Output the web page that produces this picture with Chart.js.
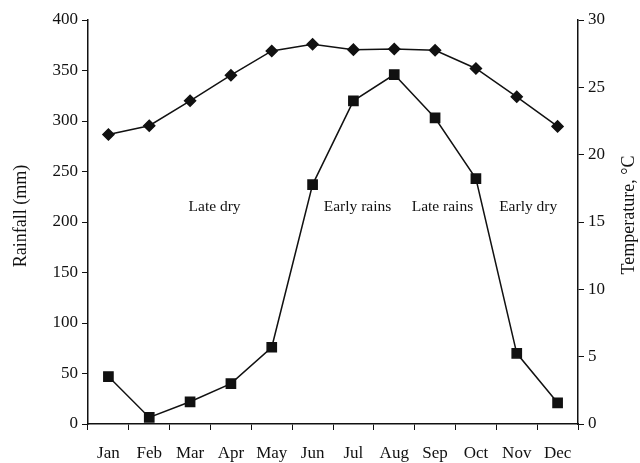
<!DOCTYPE html>
<html>
<head>
<meta charset="utf-8">
<script src="https://cdn.jsdelivr.net/npm/chart.js@4"></script>
<style>
  html, body { margin: 0; padding: 0; background: #fff; }
  #wrap { width: 640px; height: 463px; position: relative; }
</style>
</head>
<body>
<div id="wrap"><canvas id="climChart"></canvas></div>
<script>
var months = ['Jan', 'Feb', 'Mar', 'Apr', 'May', 'Jun', 'Jul', 'Aug', 'Sep', 'Oct', 'Nov', 'Dec'];
var rainfall = [47, 6.5, 22, 40, 76, 237, 320, 346, 303, 243, 70, 21];
var temperature = [21.5, 22.15, 24.0, 25.9, 27.7, 28.2, 27.8, 27.85, 27.75, 26.4, 24.3, 22.1];
var rainTicks = [0, 50, 100, 150, 200, 250, 300, 350, 400];
var tempTicks = [0, 5, 10, 15, 20, 25, 30];
var seasons = ['Late dry', 'Early rains', 'Late rains', 'Early dry'];
var seasonPos = [2.6, 6.1, 8.18, 10.28];
var seasonLevel = 215;

var serif = '"Liberation Serif", "DejaVu Serif", serif';
var ink = '#111';

// season names inside the plot, plus both axis titles (reading bottom to top)
var seasonLabels = {
  id: 'seasonLabels',
  afterDatasetsDraw: function(chart) {
    var ctx = chart.ctx;
    var xs = chart.scales.x, ys = chart.scales.yRain;
    ctx.save();
    ctx.font = '15.5px ' + serif;
    ctx.fillStyle = ink;
    ctx.textAlign = 'center';
    ctx.textBaseline = 'middle';
    for (var i = 0; i < seasons.length; i++) {
      ctx.fillText(seasons[i], xs.getPixelForValue(seasonPos[i]), ys.getPixelForValue(seasonLevel));
    }
    ctx.font = '18px ' + serif;
    ctx.save();
    ctx.translate(21, 216);
    ctx.rotate(-Math.PI / 2);
    ctx.fillText('Rainfall (mm)', 0, 0);
    ctx.restore();
    ctx.translate(629, 215);
    ctx.rotate(-Math.PI / 2);
    ctx.fillText('Temperature, \u00B0C', 0, 0);
    ctx.restore();
  }
};

var ctx = document.getElementById('climChart');
var myChart = new Chart(ctx, {
  type: 'line',
  data: {
    labels: months,
    datasets: [{
      label: 'Temperature',
      data: temperature,
      yAxisID: 'yTemp',
      borderColor: ink,
      backgroundColor: ink,
      borderWidth: 1.5,
      pointStyle: 'rectRot',
      pointRadius: 5.5,
      pointHoverRadius: 5.5,
      tension: 0
    }, {
      label: 'Rainfall',
      data: rainfall,
      yAxisID: 'yRain',
      borderColor: ink,
      backgroundColor: ink,
      borderWidth: 1.5,
      pointStyle: 'rect',
      pointRadius: 6.5,
      pointHoverRadius: 6.5,
      tension: 0
    }]
  },
  options: {
    responsive: true,
    maintainAspectRatio: false,
    animation: false,
    layout: { padding: { top: 20, left: 0, right: 0, bottom: 0 } },
    plugins: {
      legend: { display: false },
      tooltip: { enabled: false }
    },
    scales: {
      x: {
        offset: true,
        grid: { offset: true, drawOnChartArea: false, drawTicks: true, tickLength: 6, color: ink },
        border: { display: true, color: ink, width: 1.5 },
        ticks: { color: ink, font: { family: serif, size: 17 }, padding: 13, maxRotation: 0 },
        afterFit: function(scale) { scale.height = 39; }
      },
      yRain: {
        position: 'left',
        min: 0,
        max: 400,
        afterBuildTicks: function(scale) { scale.ticks = rainTicks.map(function(v) { return { value: v }; }); },
        grid: { drawOnChartArea: false, drawTicks: true, tickLength: 6, color: ink },
        border: { display: true, color: ink, width: 1.5 },
        ticks: { color: ink, font: { family: serif, size: 17 }, padding: 4 },
        afterFit: function(scale) { scale.width = 88; }
      },
      yTemp: {
        position: 'right',
        min: 0,
        max: 30,
        afterBuildTicks: function(scale) { scale.ticks = tempTicks.map(function(v) { return { value: v }; }); },
        grid: { drawOnChartArea: false, drawTicks: true, tickLength: 6, color: ink },
        border: { display: true, color: ink, width: 1.5 },
        ticks: { color: ink, font: { family: serif, size: 17 }, padding: 4 },
        afterFit: function(scale) { scale.width = 62; }
      }
    }
  },
  plugins: [seasonLabels]
});
</script>
</body>
</html>
